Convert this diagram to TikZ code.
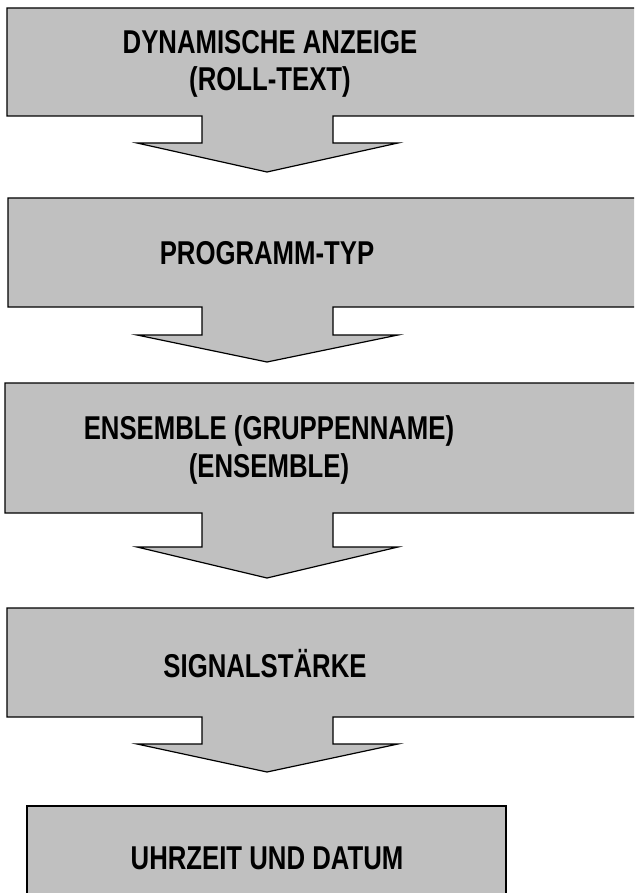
\documentclass[tikz,border=0pt]{standalone}
\usepackage{fontspec}
\setmainfont{Liberation Sans}
\newfontfamily\narrowsans[FakeStretch=0.78]{Liberation Sans}
\definecolor{boxgray}{RGB}{192,192,192}
\tikzset{
  box/.style={fill=boxgray, draw=black, line width=1.2pt, line join=miter},
  lbl/.style={font=\narrowsans\bfseries\fontsize{33}{37.5}\selectfont, align=center, inner sep=0pt}
}
\begin{document}
\begin{tikzpicture}[x=1pt, y=-1pt]
  \clip (0,0) rectangle (634,893);
  % box with its down arrow: top/bottom/stem end/tip/left edge
  \foreach \top/\bot/\stem/\tip/\lft in {8/116/143/172/7, 198/307/335/362/8, 383/513/547/578/5, 608/717/744/772/7}
    \draw[box] (\lft,\top) -- (645,\top) -- (645,\bot) -- (333,\bot) -- (333,\stem)
      -- (398,\stem) -- (267,\tip) -- (137,\stem) -- (202,\stem) -- (202,\bot)
      -- (\lft,\bot) -- cycle;
  \draw[box] (27,806) rectangle (506,910);
  \node[lbl] (dyn) at (270,64) {DYNAMISCHE ANZEIGE\\(ROLL-TEXT)};
  \node[lbl] (prog) at (267,253) {PROGRAMM-TYP};
  \node[lbl] (ens) at (269,450) {ENSEMBLE (GRUPPENNAME)\\(ENSEMBLE)};
  \node[lbl] (sig) at (265,664) {SIGNALSTÄRKE};
  \node[lbl] (uhr) at (267,858) {UHRZEIT UND DATUM};
\end{tikzpicture}
\end{document}
